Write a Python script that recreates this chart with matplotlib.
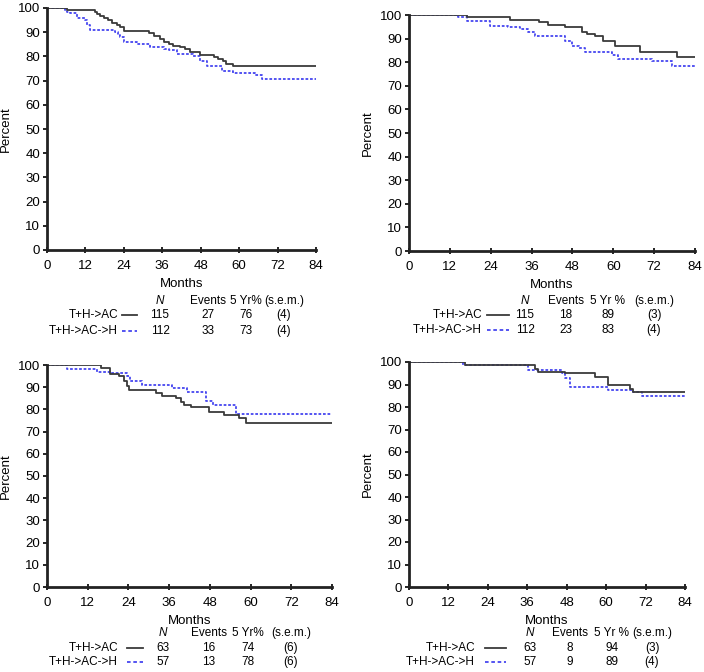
import matplotlib
matplotlib.use("Agg")
import matplotlib.pyplot as plt
from matplotlib.lines import Line2D

plt.rcParams['font.family'] = ['Liberation Sans', 'DejaVu Sans']

# step curves: months at which the curve changes, percent after the change
p1_ac_t = [0, 6.2, 15, 15.6, 16.6, 17.7, 19.2, 20.3, 21.8, 22.9, 24, 31.7, 33.3, 35.3, 36.4, 38, 39.5, 41.6,
           43.1, 44.7, 47.8, 52, 53.5, 55, 56, 58.2, 84]
p1_ac_s = [100, 99, 98.5, 97.5, 96.5, 96, 95, 94, 93, 92, 90.5, 89.5, 88.5, 87, 86, 85, 84.5, 84,
           83, 82, 80.5, 79.7, 79, 78, 77, 76, 76]
p1_h_t = [0, 5.7, 6.2, 7.3, 9.4, 12, 12.5, 13.5, 21.3, 22.2, 22.9, 24, 28, 32.2, 36.4, 38, 40.5, 45.7,
          47.8, 50, 54.6, 58.2, 65, 67, 84]
p1_h_s = [100, 99, 98.5, 98, 96, 95, 93, 91, 90, 89, 88, 86, 85, 84, 83, 82.5, 81, 80,
          78, 76, 74, 73, 72.5, 70.5, 70.5]

p2_ac_t = [0, 16.9, 29.7, 38.2, 40.9, 45.8, 50.7, 52.2, 54.6, 57.1, 60.5, 67.9, 78.6, 84]
p2_ac_s = [100, 99, 98, 97, 95.8, 95, 93, 92, 91, 89, 87, 84.5, 82, 82]
p2_h_t = [0, 14.5, 16.9, 23.8, 29.2, 32.6, 35, 37, 45.8, 47.8, 49.8, 51.7, 53.7, 59.5, 61.5, 71.3, 77.2, 84]
p2_h_s = [100, 99, 97.5, 95.5, 95, 94, 93, 91, 89, 87, 86, 84.5, 84.5, 83, 81.5, 80.5, 78.5, 78.5]

p3_ac_t = [0, 15.8, 18.7, 21.2, 22.7, 23.6, 24.1, 32, 34, 37.9, 39.4, 40.4, 42.4, 47.8, 52.2, 56.7, 58.6, 84]
p3_ac_s = [100, 98.5, 96, 95, 93, 90.5, 88.8, 87.5, 86, 85, 83.5, 82, 81, 79, 77.5, 76, 74, 74]
p3_h_t = [0, 5.9, 14.8, 18.7, 23.6, 24.6, 28, 36.9, 41.4, 46.8, 48.8, 55.7, 84]
p3_h_s = [100, 98, 97, 96.5, 95, 93, 91, 89.5, 88, 84, 82, 78, 78]

p4_ac_t = [0, 17, 38.3, 39.4, 47.5, 56.6, 60.6, 67.3, 68.3, 84]
p4_ac_s = [100, 98.5, 97, 95.5, 95, 93.5, 90, 88, 86.5, 86.5]
p4_h_t = [0, 16.5, 36.3, 46.5, 47.5, 49, 60.6, 68.3, 70.8, 84]
p4_h_s = [100, 98.5, 96.5, 95, 93, 89, 87.5, 86.5, 85, 85]

arms = ["T+H->AC", "T+H->AC->H"]
headers = [["N", "Events", "5 Yr%", "(s.e.m.)"],
           ["N", "Events", "5 Yr %", "(s.e.m.)"],
           ["N", "Events", "5 Yr%", "(s.e.m.)"],
           ["N", "Events", "5 Yr %", "(s.e.m.)"]]
table_rows = [
    [["115", "27", "76", "(4)"], ["112", "33", "73", "(4)"]],
    [["115", "18", "89", "(3)"], ["112", "23", "83", "(4)"]],
    [["63", "16", "74", "(6)"], ["57", "13", "78", "(6)"]],
    [["63", "8", "94", "(3)"], ["57", "9", "89", "(4)"]],
]

W, H = 704, 672
fig = plt.figure(figsize=(W / 100, H / 100), dpi=100)

def px(x, y):
    return x / W, 1 - y / H

# axes boxes in pixels: left, right, top, bottom
boxes = [(47, 316, 8, 250), (409, 695, 15, 251), (47, 332, 365, 587), (409, 685, 362, 587)]
curves = [(p1_ac_t, p1_ac_s, p1_h_t, p1_h_s), (p2_ac_t, p2_ac_s, p2_h_t, p2_h_s),
          (p3_ac_t, p3_ac_s, p3_h_t, p3_h_s), (p4_ac_t, p4_ac_s, p4_h_t, p4_h_s)]

BLACK = '#3a3a3a'
BLUE = '#4646f0'
fs = 9.5

for (l, r, t, b), (at, asv, ht, hsv) in zip(boxes, curves):
    x0, y0 = px(l, b)
    ax = fig.add_axes([x0, y0, (r - l) / W, (b - t) / H])
    ax.step(ht, hsv, where='post', color=BLUE, lw=1.3, ls=(0, (1.5, 1)))
    ax.step(at, asv, where='post', color=BLACK, lw=1.3)
    ax.set_xlim(0, 84)
    ax.set_ylim(0, 100)
    ax.set_xticks(range(0, 85, 12))
    ax.set_yticks(range(0, 101, 10))
    ax.tick_params(labelsize=fs, length=3, width=1.2, pad=2)
    ax.tick_params(axis='x', direction='inout', length=5, pad=5)
    for s in ['top', 'right']:
        ax.spines[s].set_visible(False)
    for s in ['left', 'bottom']:
        ax.spines[s].set_linewidth(2)
        ax.spines[s].set_color('#222222')
    ax.set_xlabel("Months", fontsize=fs, labelpad=4)
    ax.set_ylabel("Percent", fontsize=fs, labelpad=4)
    ax.patch.set_alpha(0)

# summary tables under each panel (pixel layout)
# name right edge, line x-range, column centres, header y, row ys
tab_layout = [
    (118, (122, 137), [160, 208, 246, 284], 301, [315, 331]),
    (482, (487, 509), [525, 566, 608, 654], 301, [315, 330]),
    (118, (127, 143), [163, 209, 248, 291], 633, [648, 662]),
    (475, (485, 506), [530, 570, 612, 652], 633, [648, 662]),
]
tfs = 8.5
for k, (name_r, (lx0, lx1), cols, hy, rys) in enumerate(tab_layout):
    for j, h in enumerate(headers[k]):
        fig.text(*px(cols[j], hy), h, ha='center', va='center', fontsize=tfs,
                 style='italic' if j == 0 else 'normal')
    for i, arm in enumerate(arms):
        y = rys[i]
        fig.text(*px(name_r, y), arm, ha='right', va='center', fontsize=tfs)
        xa, ya = px(lx0, y)
        xb, _ = px(lx1, y)
        if i == 0:
            fig.add_artist(Line2D([xa, xb], [ya, ya], transform=fig.transFigure, color=BLACK, lw=1.3))
        else:
            fig.add_artist(Line2D([xa, xb], [ya, ya], transform=fig.transFigure, color=BLUE, lw=1.3,
                                  ls=(0, (2, 1.5))))
        for j, v in enumerate(table_rows[k][i]):
            fig.text(*px(cols[j], y), v, ha='center', va='center', fontsize=tfs)

fig.savefig("out.png", dpi=100)
